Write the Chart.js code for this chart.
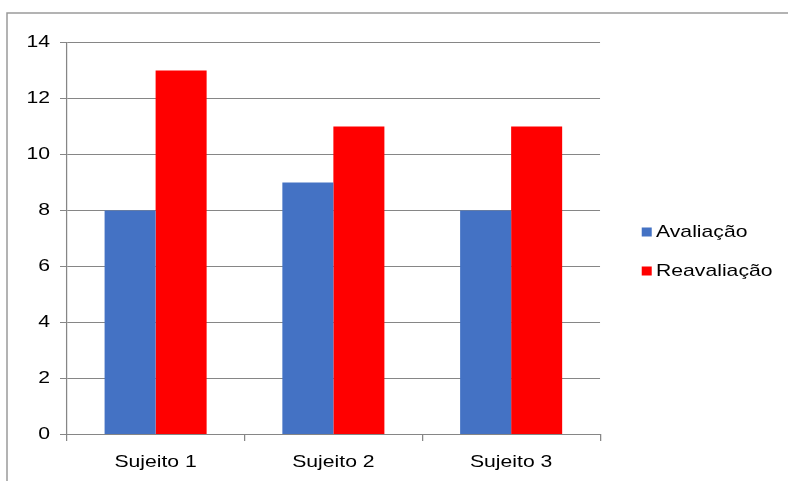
<!DOCTYPE html>
<html><head><meta charset="utf-8">
<script src="https://cdn.jsdelivr.net/npm/chart.js@4"></script>
<style>html,body{margin:0;padding:0;background:#fff;overflow:hidden}
canvas{display:block}</style></head>
<body><canvas id="c" width="633" height="481" style="width:788px;height:481px"></canvas>
<script>
const categories = ['Sujeito 1', 'Sujeito 2', 'Sujeito 3'];
const avaliacao = [8, 9, 8];
const reavaliacao = [13, 11, 11];
const seriesNames = ['Avaliação', 'Reavaliação'];
const seriesColors = ['#4472C4', '#FF0000'];
const yTicks = [0, 2, 4, 6, 8, 10, 12, 14];

const REAL_W = 788;
const FONT = {family: "'Liberation Sans', Arial, sans-serif", size: 17};
const GRID = '#868686';

const stretchPlugin = {
  id: 'stretch',
  beforeDraw(chart) {
    const c = chart.ctx;
    c.save();
    c.setTransform(REAL_W / chart.width, 0, 0, 1, 0, 0);
  },
  afterDraw(chart) {
    const c = chart.ctx;
    const legendY = [232, 271];
    c.font = FONT.size + 'px ' + FONT.family;
    c.textBaseline = 'middle';
    c.textAlign = 'left';
    chart.data.datasets.forEach((ds, i) => {
      c.fillStyle = ds.backgroundColor;
      c.fillRect(515.5, legendY[i] - 4.5, 8.03, 9);
      c.fillStyle = '#000';
      c.fillText(ds.label, 527, legendY[i]);
    });
    c.restore();
    c.save();
    c.strokeStyle = '#9a9a9a';
    c.lineWidth = 1.5;
    c.beginPath();
    c.moveTo(7, 481);
    c.lineTo(7, 13);
    c.lineTo(788, 13);
    c.stroke();
    c.restore();
  }
};

const canvas = document.getElementById('c');
const chart = new Chart(canvas, {
  type: 'bar',
  data: {
    labels: categories,
    datasets: [
      {label: seriesNames[0], data: avaliacao, backgroundColor: seriesColors[0]},
      {label: seriesNames[1], data: reavaliacao, backgroundColor: seriesColors[1]}
    ]
  },
  options: {
    responsive: false,
    animation: false,
    events: [],
    layout: {padding: {left: 0, right: 151, top: 42.5, bottom: 0}},
    plugins: {legend: {display: false}, tooltip: {enabled: false}},
    datasets: {bar: {barPercentage: 1, categoryPercentage: 0.574}},
    scales: {
      x: {
        grid: {display: true, drawOnChartArea: false, drawTicks: true, tickLength: 6.5, color: GRID, offset: true},
        border: {display: true, color: GRID},
        ticks: {padding: 11.5, color: '#000', font: FONT},
        afterFit(s) { s.height = 46.5; }
      },
      y: {
        min: 0, max: 14,
        grid: {color: GRID, tickLength: 5.4, drawTicks: true},
        border: {display: true, color: GRID},
        ticks: {padding: 8, color: '#000', font: FONT, stepSize: 2},
        afterBuildTicks(s) { s.ticks = yTicks.map(v => ({value: v})); },
        afterFit(s) { s.width = 53.6; }
      }
    }
  },
  plugins: [stretchPlugin]
});
canvas.width = REAL_W;
canvas.style.width = REAL_W + 'px';
canvas.style.height = '481px';
chart.draw();
</script></body></html>
